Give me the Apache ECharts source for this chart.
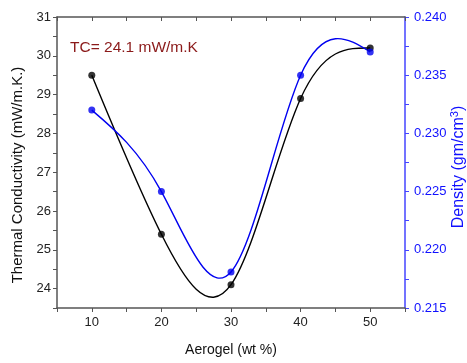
<!DOCTYPE html>
<html><head><meta charset="utf-8">
<script src="https://cdn.jsdelivr.net/npm/echarts@6/dist/echarts.min.js"></script>
<style>html,body{margin:0;padding:0;background:#fff}#c{width:467px;height:363px}</style>
</head><body><div id="c"></div>
<script>
const aerogel = [10, 20, 30, 40, 50];
const thermalConductivity = [29.5, 25.4, 24.1, 28.9, 30.2];
const density = [0.232, 0.225, 0.2181, 0.235, 0.2370];
const annotation = 'TC= 24.1 mW/m.K';
const xTitle = 'Aerogel (wt %)';
const leftTitle = 'Thermal Conductivity (mW/m.K.)';
const rightTitle = '{a|Density (gm/cm}{s|3}{a|)}';

// natural cubic spline: slopes at each node (used only to shape the connecting line)
function splineSlopes(xs, ys) {
  const n = xs.length, h = [], M = new Array(n).fill(0);
  for (let i = 0; i < n - 1; i++) h.push(xs[i + 1] - xs[i]);
  const a = [], b = [], c = [], d = [];
  for (let i = 1; i < n - 1; i++) {
    a.push(h[i - 1]); b.push(2 * (h[i - 1] + h[i])); c.push(h[i]);
    d.push(6 * ((ys[i + 1] - ys[i]) / h[i] - (ys[i] - ys[i - 1]) / h[i - 1]));
  }
  const m = b.length;
  for (let i = 1; i < m; i++) {
    const w = a[i] / b[i - 1];
    b[i] -= w * c[i - 1]; d[i] -= w * d[i - 1];
  }
  const sol = new Array(m);
  for (let i = m - 1; i >= 0; i--) sol[i] = (d[i] - (i < m - 1 ? c[i] * sol[i + 1] : 0)) / b[i];
  for (let i = 0; i < m; i++) M[i + 1] = sol[i];
  const segs = [];
  for (let i = 0; i < n - 1; i++) {
    const s = (ys[i + 1] - ys[i]) / h[i];
    segs.push({
      d0: s - h[i] * (2 * M[i] + M[i + 1]) / 6,
      d1: s + h[i] * (M[i] + 2 * M[i + 1]) / 6
    });
  }
  return {h, segs};
}

function splineRenderer(xs, ys, color) {
  const sp = splineSlopes(xs, ys);
  return function (params, api) {
    if (params.dataIndex !== 0) return null;
    let p = api.coord([xs[0], ys[0]]);
    let path = 'M' + p[0] + ' ' + p[1];
    for (let i = 0; i < xs.length - 1; i++) {
      const h = sp.h[i], s = sp.segs[i];
      const c1 = api.coord([xs[i] + h / 3, ys[i] + h / 3 * s.d0]);
      const c2 = api.coord([xs[i + 1] - h / 3, ys[i + 1] - h / 3 * s.d1]);
      const e = api.coord([xs[i + 1], ys[i + 1]]);
      path += ' C' + c1[0] + ' ' + c1[1] + ' ' + c2[0] + ' ' + c2[1] + ' ' + e[0] + ' ' + e[1];
    }
    return {type: 'path', shape: {pathData: path},
      style: {stroke: color, fill: null, lineWidth: 1.4}, silent: true};
  };
}

const chart = echarts.init(document.getElementById('c'));
const axisGray = '#555555';
const blue = '#1010ff';
const lineBlue = '#0000f0';
const font = 'Liberation Sans, Arial, sans-serif';
chart.setOption({
  animation: false,
  grid: {left: 57, right: 62, top: 17, bottom: 55, containLabel: false, outerBoundsMode: 'none'},
  xAxis: [{
    type: 'value', min: 5, max: 55, interval: 5, position: 'bottom',
    name: xTitle, nameLocation: 'middle', nameGap: 35,
    nameTextStyle: {fontFamily: font, fontSize: 14, color: '#111'},
    axisLine: {lineStyle: {color: axisGray, width: 1.5}},
    axisTick: {length: 4, lineStyle: {color: axisGray}},
    axisLabel: {fontFamily: font, fontSize: 13, color: '#222', margin: 8,
      formatter: v => (Math.round(v) % 10 === 0 ? String(Math.round(v)) : '')},
    splitLine: {show: false}
  }, {
    type: 'value', min: 5, max: 55, interval: 5, position: 'top',
    axisLine: {lineStyle: {color: axisGray, width: 1.5}},
    axisTick: {inside: true, length: 4, lineStyle: {color: axisGray}},
    axisLabel: {show: false}, splitLine: {show: false}
  }],
  yAxis: [{
    type: 'value', min: 23.5, max: 31, interval: 0.5, position: 'left',
    axisLine: {show: true, lineStyle: {color: axisGray, width: 1.5}},
    axisTick: {show: true, length: 4, lineStyle: {color: axisGray}},
    axisLabel: {fontFamily: font, fontSize: 13, color: '#222', margin: 6,
      formatter: v => (Math.abs(v - Math.round(v)) < 1e-6 ? String(Math.round(v)) : '')},
    splitLine: {show: false}
  }, {
    type: 'value', min: 0.215, max: 0.240, interval: 0.0025, position: 'right',
    axisLine: {show: true, lineStyle: {color: '#4444ff', width: 1.5}},
    axisTick: {show: true, length: 4, lineStyle: {color: '#4444ff'}},
    axisLabel: {fontFamily: font, fontSize: 13, color: blue, margin: 9,
      formatter: v => (Math.round(v * 10000) % 50 === 0 ? v.toFixed(3) : '')},
    splitLine: {show: false}
  }],
  graphic: [{
    type: 'text', left: 70, top: 40,
    style: {text: annotation, fill: '#8b1a1a', fontFamily: font, fontSize: 15.5}
  }, {
    type: 'text', x: 17.5, y: 175, rotation: Math.PI / 2,
    style: {text: leftTitle, fill: '#111', fontFamily: font, fontSize: 15,
      align: 'center', verticalAlign: 'middle'}
  }, {
    type: 'text', x: 458.5, y: 167, rotation: Math.PI / 2,
    style: {text: rightTitle, align: 'center', verticalAlign: 'middle',
      rich: {
        a: {fontFamily: font, fontSize: 16, fill: blue},
        s: {fontFamily: font, fontSize: 11, fill: blue, verticalAlign: 'top', padding: [0, 0, 7, 0]}
      }}
  }],
  series: [{
    type: 'custom', xAxisIndex: 0, yAxisIndex: 0, z: 2,
    data: aerogel.map((x, i) => [x, thermalConductivity[i]]),
    encode: {x: 0, y: 1},
    renderItem: splineRenderer(aerogel, thermalConductivity, '#000')
  }, {
    type: 'custom', xAxisIndex: 0, yAxisIndex: 1, z: 2,
    data: aerogel.map((x, i) => [x, density[i]]),
    encode: {x: 0, y: 1},
    renderItem: splineRenderer(aerogel, density, lineBlue)
  }, {
    type: 'scatter', xAxisIndex: 0, yAxisIndex: 0, z: 3,
    data: aerogel.map((x, i) => [x, thermalConductivity[i]]),
    symbol: 'circle', symbolSize: 7, itemStyle: {color: '#000'}
  }, {
    type: 'scatter', xAxisIndex: 0, yAxisIndex: 1, z: 4,
    data: aerogel.map((x, i) => [x, density[i]]),
    symbol: 'circle', symbolSize: 7, itemStyle: {color: lineBlue}
  }]
});
</script></body></html>
